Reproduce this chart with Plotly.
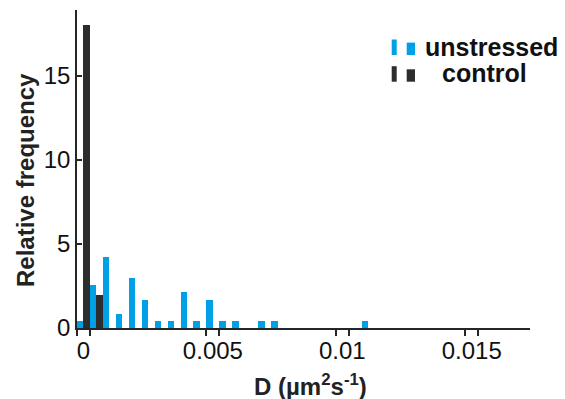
import plotly.graph_objects as go

# Bin centres of D (µm^2 s^-1), bin width 0.0005
bin_centers = [0.0, 0.0005, 0.001, 0.0015, 0.002, 0.0025, 0.003, 0.0035, 0.004,
               0.0045, 0.005, 0.0055, 0.006, 0.0065, 0.007, 0.0075, 0.008, 0.0085,
               0.009, 0.0095, 0.01, 0.0105, 0.011]
unstressed = [0.42, 2.54, 4.24, 0.85, 2.97, 1.69, 0.42, 0.42, 2.12, 0.42, 1.69, 0.42,
              0.42, 0.0, 0.42, 0.42, 0.0, 0.0, 0.0, 0.0, 0.0, 0.0, 0.42]
control = [18.0, 1.95, 0, 0, 0, 0, 0, 0, 0, 0, 0, 0, 0, 0, 0, 0, 0, 0, 0, 0, 0, 0, 0]
series_names = ["unstressed", "control"]

x_tick_vals = [0, 0.005, 0.01, 0.015]
x_tick_text = ["0", "0.005", "0.01", "0.015"]
y_tick_vals = [0, 5, 10, 15]

BLUE = "#00A0E6"
DARK = "#2D2D2D"
AX = "#262626"
TXT = "#111111"
FONT = "Liberation Sans, Arial, sans-serif"

W, H = 565, 399
ML, MR, MT, MB = 77, 35, 10, 71
PW, PH = W - ML - MR, H - MT - MB


def px(x):
    return (x - ML) / PW


def py(y):
    return (H - MB - y) / PH


x_range = [-0.00025, 0.01725]
half = 0.00025

fig = go.Figure()
fig.add_trace(go.Bar(x=bin_centers, y=unstressed, name=series_names[0],
                     marker=dict(color=BLUE, line=dict(width=0))))
fig.add_trace(go.Bar(x=bin_centers, y=control, name=series_names[1],
                     marker=dict(color=DARK, line=dict(width=0))))
# empty helpers so the offset tick axes are drawn
for ax in ["x2", "x3"]:
    fig.add_trace(go.Scatter(x=[], y=[], xaxis=ax, yaxis="y", showlegend=False,
                             hoverinfo="skip"))

# legend drawn manually (two-bar icons like the original)
shapes = []
annotations = []
legend_rows = [(series_names[0], BLUE, 55.0, 423), (series_names[1], DARK, 81.7, 440)]
for name, col, base, tx in legend_rows:
    shapes.append(dict(type="rect", xref="paper", yref="paper",
                       x0=px(391.7), x1=px(396.7), y0=py(base), y1=py(base - 15.5),
                       fillcolor=col, line=dict(width=0)))
    shapes.append(dict(type="rect", xref="paper", yref="paper",
                       x0=px(406.7), x1=px(415), y0=py(base), y1=py(base - 12.4),
                       fillcolor=col, line=dict(width=0)))
    annotations.append(dict(text=name, xref="paper", yref="paper", x=px(tx),
                            y=py(base - 8.5), xanchor="left", yanchor="middle",
                            showarrow=False,
                            font=dict(family=FONT, size=25, color=TXT, weight="bold")))

annotations.append(dict(text="Relative frequency", xref="paper", yref="paper",
                        x=px(25), y=py(180), xanchor="center", yanchor="middle",
                        textangle=-90, showarrow=False,
                        font=dict(family=FONT, size=24, color="#222222", weight="bold")))
annotations.append(dict(text="D (µm<sup>2</sup>s<sup>-1</sup>)", xref="paper", yref="paper",
                        x=px(310), y=py(385), xanchor="center", yanchor="middle",
                        showarrow=False,
                        font=dict(family=FONT, size=24, color="#222222", weight="bold")))

fig.update_layout(
    width=W, height=H,
    margin=dict(l=ML, r=MR, t=MT, b=MB),
    plot_bgcolor="white", paper_bgcolor="white",
    barmode="group", bargap=0, bargroupgap=0,
    font=dict(family=FONT, size=24, color=TXT),
    showlegend=False,
    shapes=shapes,
    annotations=annotations,
    xaxis=dict(range=x_range, tickvals=x_tick_vals, ticktext=x_tick_text,
               ticks="", showline=True, linecolor=AX, linewidth=1.5,
               showgrid=False, zeroline=False,
               tickfont=dict(family=FONT, size=24, color=TXT)),
    xaxis2=dict(range=[x_range[0] + half, x_range[1] + half], overlaying="x", anchor="y",
                tickvals=x_tick_vals, ticks="outside", ticklen=7, tickwidth=1.5,
                tickcolor=AX, showticklabels=False, showline=False, showgrid=False,
                zeroline=False),
    xaxis3=dict(range=[x_range[0] - half, x_range[1] - half], overlaying="x", anchor="y",
                tickvals=x_tick_vals, ticks="outside", ticklen=7, tickwidth=1.5,
                tickcolor=AX, showticklabels=False, showline=False, showgrid=False,
                zeroline=False),
    yaxis=dict(range=[0, 18.9], tickvals=y_tick_vals, ticks="inside", ticklen=5,
               tickwidth=1.5, tickcolor=AX, showline=True, linecolor=AX, linewidth=1.5,
               showgrid=False, zeroline=False,
               tickfont=dict(family=FONT, size=24, color=TXT)),
)

fig.write_html("out.html")
